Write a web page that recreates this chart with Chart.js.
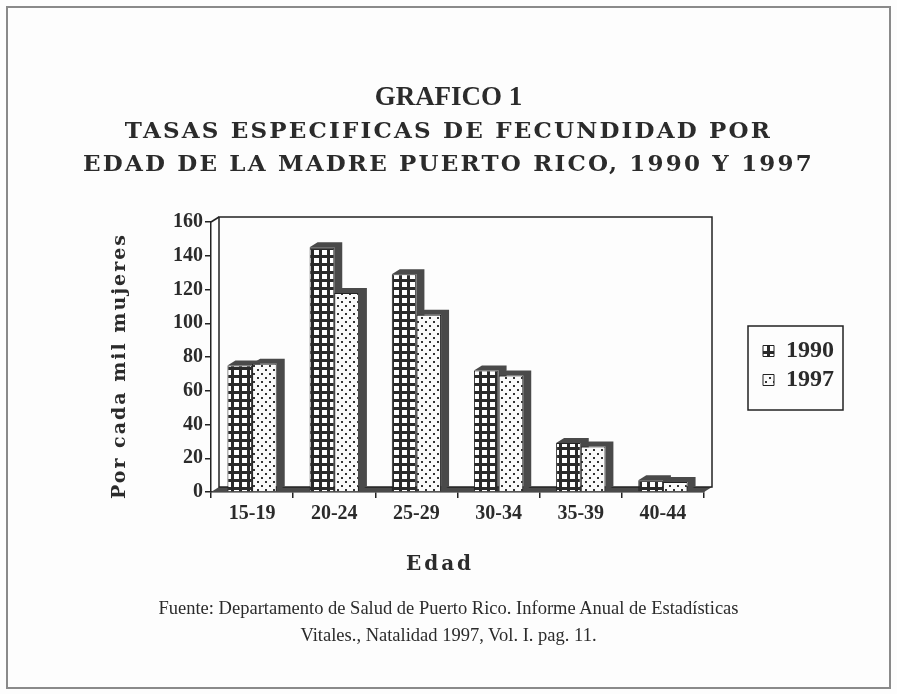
<!DOCTYPE html>
<html lang="es">
<head>
<meta charset="utf-8">
<title>Grafico 1 - Tasas especificas de fecundidad</title>
<script src="https://cdn.jsdelivr.net/npm/chart.js@4.4.0/dist/chart.umd.min.js"></script>
<style>
  body { margin: 0; background: #fff; }
  #hoja { position: relative; width: 897px; height: 694px; background: #fdfdfd; overflow: hidden; }
  #marco { position: absolute; left: 6px; top: 6px; width: 881px; height: 679px; border: 2px solid #8a8a8a; }
  #grafico { position: absolute; left: 0; top: 0; }
  .texto { position: absolute; color: #2b2b2b; white-space: nowrap; }
  #titulo1 { left: 0; width: 897px; top: 81px; text-align: center; font: bold 27px "Liberation Serif", serif; }
  .subtitulo { left: 0; width: 897px; text-align: center; font: bold 23px "DejaVu Serif", serif; letter-spacing: 2.2px; }
  #tituloY { left: 118px; top: 366px; transform: translate(-50%, -50%) rotate(-90deg); font: bold 19px "DejaVu Serif", serif; letter-spacing: 2px; }
  #tituloX { left: 440px; top: 563px; transform: translate(-50%, -50%); font: bold 20px "DejaVu Serif", serif; letter-spacing: 3px; }
  .fuente { left: 0; width: 897px; text-align: center; font: 18.5px "Liberation Serif", serif; }
</style>
</head>
<body>
<div id="hoja">
  <div id="marco"></div>
  <canvas id="grafico" width="897" height="694"></canvas>
  <div class="texto" id="titulo1">GRAFICO 1</div>
  <div class="texto subtitulo" style="top:116px">TASAS ESPECIFICAS DE FECUNDIDAD POR</div>
  <div class="texto subtitulo" style="top:149px">EDAD DE LA MADRE PUERTO RICO, 1990 Y 1997</div>
  <div class="texto" id="tituloY">Por cada mil mujeres</div>
  <div class="texto" id="tituloX">Edad</div>
  <div class="texto fuente" style="top:598px">Fuente: Departamento de Salud de Puerto Rico. Informe Anual de Estadísticas</div>
  <div class="texto fuente" style="top:625px">Vitales., Natalidad 1997, Vol. I. pag. 11.</div>
</div>
<script>
// datos
const edades = ['15-19', '20-24', '25-29', '30-34', '35-39', '40-44'];
const tasas1990 = [75, 145, 129, 72, 29, 7];
const tasas1997 = [76, 118, 105, 69, 27, 6];
const etiquetasSerie = ['1990', '1997'];
const ticksY = [0, 20, 40, 60, 80, 100, 120, 140, 160];

const colorSombra = '#4a4a4a';
const colorLinea = '#222';
const dx = 8;  // profundidad 3D horizontal
const dy = 5;  // profundidad 3D vertical

// tramas de relleno como en el original
function tramaCuadros() {
    const c = document.createElement('canvas');
    c.width = 8; c.height = 8;
    const g = c.getContext('2d');
    g.fillStyle = '#2a2a2a';
    g.fillRect(0, 0, 8, 8);
    g.fillStyle = '#fff';
    g.fillRect(2, 2, 5, 5);
    return g.createPattern(c, 'repeat');
}

function tramaPuntos() {
    const c = document.createElement('canvas');
    c.width = 8; c.height = 8;
    const g = c.getContext('2d');
    g.fillStyle = '#fafafa';
    g.fillRect(0, 0, 8, 8);
    g.fillStyle = '#333';
    g.fillRect(1, 1, 2, 2);
    g.fillRect(5, 5, 2, 2);
    return g.createPattern(c, 'repeat');
}

// sombras, suelo y pared del fondo (efecto 3D)
const efecto3d = {
    id: 'efecto3d',
    beforeDatasetsDraw(chart) {
        const ctx = chart.ctx;
        const a = chart.chartArea;
        ctx.save();
        ctx.fillStyle = colorSombra;
        ctx.beginPath();
        ctx.moveTo(a.left, a.bottom);
        ctx.lineTo(a.left + dx, a.bottom - dy);
        ctx.lineTo(a.right + dx, a.bottom - dy);
        ctx.lineTo(a.right, a.bottom);
        ctx.closePath();
        ctx.fill();

        ctx.strokeStyle = colorLinea;
        ctx.lineWidth = 1.5;
        ctx.strokeRect(a.left + dx, a.top - dy, a.right - a.left, a.bottom - a.top);
        ctx.beginPath();
        ctx.moveTo(a.left, a.top);
        ctx.lineTo(a.left + dx, a.top - dy);
        ctx.stroke();

        chart.data.datasets.forEach(function (ds, i) {
            chart.getDatasetMeta(i).data.forEach(function (barra) {
                const p = barra.getProps(['x', 'y', 'base', 'width'], true);
                const l = p.x - p.width / 2;
                const r = p.x + p.width / 2;
                ctx.fillStyle = colorSombra;
                ctx.beginPath();
                ctx.moveTo(l, p.y);
                ctx.lineTo(l + dx, p.y - dy);
                ctx.lineTo(r + dx, p.y - dy);
                ctx.lineTo(r + dx, p.base - dy);
                ctx.lineTo(r, p.base);
                ctx.lineTo(r, p.y);
                ctx.closePath();
                ctx.fill();
            });
        });
        ctx.restore();
    },
    afterDraw(chart) {
        // recuadro de la leyenda
        const hb = chart.legend.legendHitBoxes;
        if (!hb || !hb.length) return;
        const x0 = hb[0].left - 15;
        const y0 = hb[0].top - 13;
        const ultimo = hb[hb.length - 1];
        const y1 = ultimo.top + ultimo.height + 18;
        const ctx = chart.ctx;
        ctx.save();
        ctx.strokeStyle = colorLinea;
        ctx.lineWidth = 1.5;
        ctx.strokeRect(x0, y0, 95, y1 - y0);
        ctx.restore();
    }
};

const fuenteTicks = { family: '"Liberation Serif", serif', size: 20, weight: 'bold' };

new Chart(document.getElementById('grafico').getContext('2d'), {
    type: 'bar',
    data: {
        labels: edades,
        datasets: [
            {
                label: etiquetasSerie[0],
                data: tasas1990,
                backgroundColor: tramaCuadros(),
                borderColor: colorLinea,
                borderWidth: 1
            },
            {
                label: etiquetasSerie[1],
                data: tasas1997,
                backgroundColor: tramaPuntos(),
                borderColor: colorLinea,
                borderWidth: 1
            }
        ]
    },
    options: {
        responsive: false,
        animation: false,
        layout: {
            padding: { left: 150, top: 222, bottom: 162, right: 53 }
        },
        datasets: {
            bar: { barPercentage: 1.0, categoryPercentage: 0.6 }
        },
        scales: {
            x: {
                grid: { offset: true, drawOnChartArea: false, tickLength: 6, color: colorLinea, lineWidth: 1.5 },
                border: { display: true, color: colorLinea, width: 1.5 },
                ticks: { color: '#2b2b2b', font: fuenteTicks, padding: 4 },
                afterFit: function (s) { s.height = 40; }
            },
            y: {
                min: 0,
                max: 160,
                afterBuildTicks: function (s) { s.ticks = ticksY.map(v => ({ value: v })); },
                grid: { drawOnChartArea: false, tickLength: 6, color: colorLinea, lineWidth: 1.5 },
                border: { display: true, color: colorLinea, width: 1.5 },
                ticks: { color: '#2b2b2b', font: fuenteTicks, padding: 2 },
                afterFit: function (s) { s.width = 61; }
            },
            // eje vacio para separar la leyenda del grafico
            y2: {
                type: 'linear',
                position: 'right',
                display: true,
                grid: { display: false },
                border: { display: false },
                ticks: { display: false },
                afterFit: function (s) { s.width = 54; }
            }
        },
        plugins: {
            legend: {
                position: 'right',
                fullSize: false,
                // titulo vacio: solo baja un poco las entradas
                title: { display: true, text: '', font: { size: 12, lineHeight: 1 }, padding: { top: 5, bottom: 0 } },
                labels: {
                    color: '#2b2b2b',
                    font: { family: '"Liberation Serif", serif', size: 24, weight: 'bold' },
                    boxWidth: 11,
                    boxHeight: 11,
                    padding: 5
                }
            },
            tooltip: { enabled: false }
        }
    },
    plugins: [efecto3d]
});
</script>
</body>
</html>
